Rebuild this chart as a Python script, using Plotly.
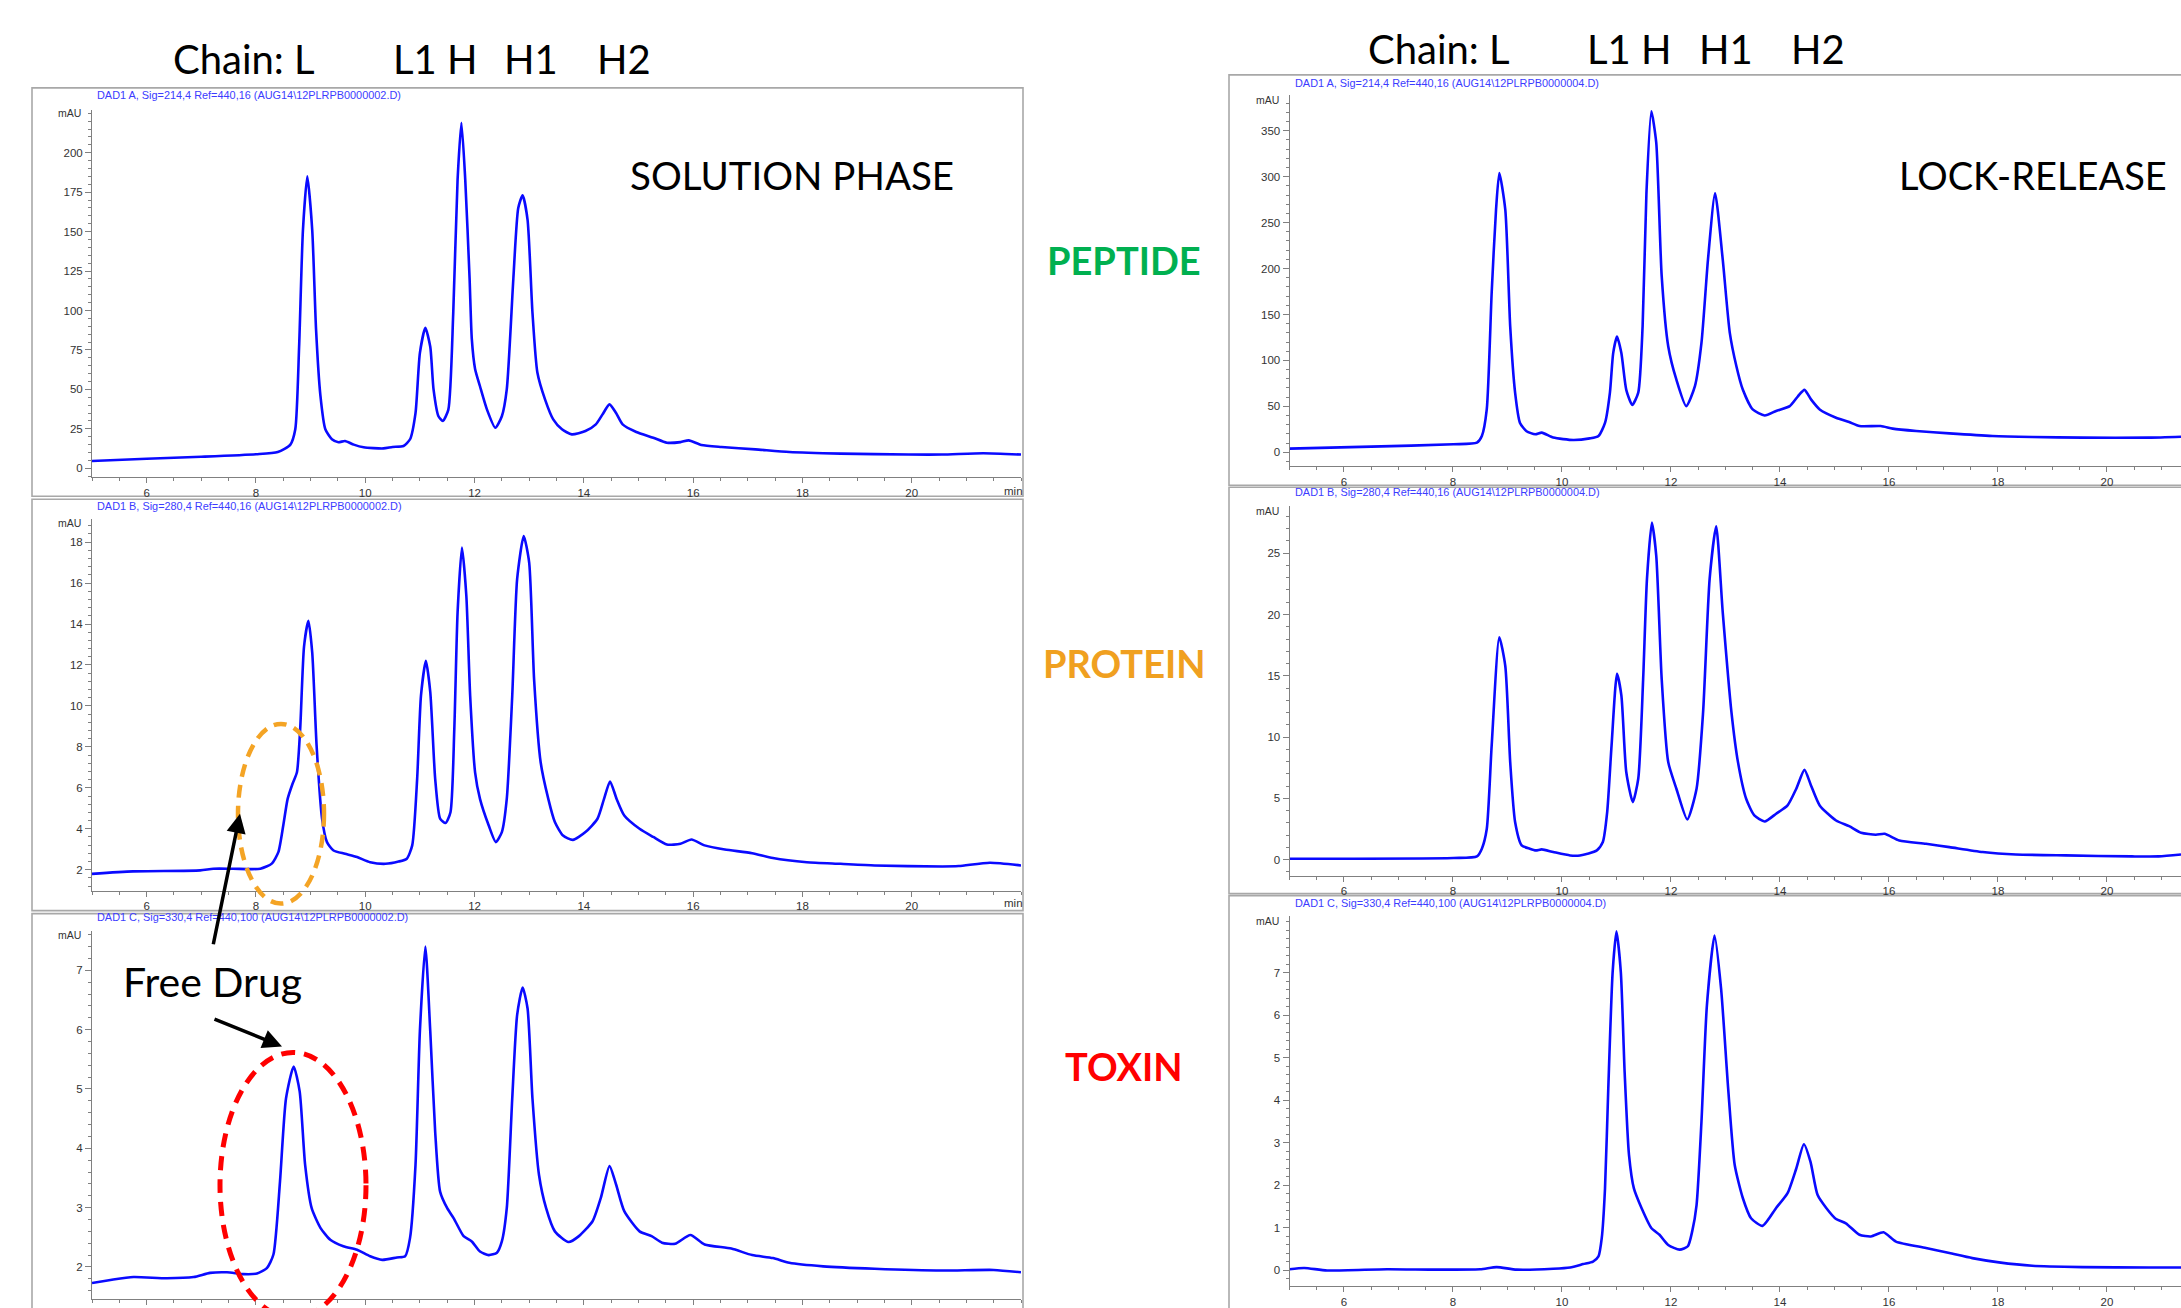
import plotly.graph_objects as go

W, H = 2181, 1308

# ---------------- data (retention time in min, absorbance in mAU) ----------------
# Solution phase, DAD1 A (214 nm) - PEPTIDE
sol_a_t = [5.0, 6.0, 7.0, 8.0, 8.4, 8.63, 8.72, 8.79, 8.86, 8.94, 9.03, 9.1, 9.18, 9.27, 9.39, 9.51, 9.63, 9.79,
           9.97, 10.33, 10.5, 10.7, 10.82, 10.92, 11.0, 11.1, 11.19, 11.25, 11.34, 11.42, 11.52, 11.61, 11.69, 11.76,
           11.83, 11.91, 11.95, 12.01, 12.1, 12.23, 12.38, 12.5, 12.59, 12.71, 12.8, 12.88, 12.97, 13.06, 13.15, 13.29,
           13.44, 13.6, 13.78, 14.03, 14.22, 14.34, 14.47, 14.59, 14.71, 14.96, 15.27, 15.52, 15.77, 15.92, 16.15,
           16.52, 17.14, 17.76, 18.7, 19.94, 20.55, 21.31, 22.0]
sol_a_v = [4.6, 6.0, 7.3, 8.9, 10.3, 15, 24.7, 77, 151, 185, 151, 88, 46, 24.7, 18.4, 16.5, 17.3, 15,
           13.3, 12.6, 13.5, 14.1, 18.4, 35, 73, 89, 77, 50, 33, 30, 37, 98, 183, 219,
           183, 120, 82, 63, 52, 37, 25.7, 33, 50, 120, 165, 173, 157.6, 98.7, 60.7, 43.7,
           31, 24.7, 21.5, 23.6, 27.8, 34, 40.5, 35, 27.8, 23, 19.4, 16.2, 16.6, 17.7, 14.8,
           13.5, 12, 10.3, 9.3, 8.7, 8.7, 9.5, 8.7]

# Solution phase, DAD1 B (280 nm) - PROTEIN
sol_b_t = [5.0, 5.75, 6.98, 7.22, 7.58, 8.08, 8.29, 8.41, 8.5, 8.58, 8.67, 8.75, 8.81, 8.88, 8.96, 9.03, 9.11, 9.21,
           9.3, 9.42, 9.63, 9.85, 10.09, 10.37, 10.61, 10.76, 10.86, 10.95, 11.02, 11.11, 11.19, 11.28, 11.37, 11.47,
           11.56, 11.63, 11.69, 11.77, 11.85, 11.92, 12.01, 12.1, 12.26, 12.39, 12.5, 12.59, 12.69, 12.78, 12.9,
           13.0, 13.09, 13.21, 13.35, 13.47, 13.62, 13.8, 14.03, 14.25, 14.37, 14.48, 14.6, 14.74, 15.02, 15.27, 15.52,
           15.77, 15.97, 16.21, 16.58, 17.08, 17.46, 18.08, 18.7, 19.32, 20.56, 20.86, 21.43, 22.0]
sol_b_v = [1.8, 1.92, 1.97, 2.05, 2.05, 2.05, 2.3, 2.86, 4.16, 5.46, 6.2, 6.76, 8.9, 12.9, 14.16, 12.6, 8.06, 4.5,
           3.35, 2.94, 2.78, 2.62, 2.37, 2.29, 2.4, 2.54, 3.19, 6.44, 10.5, 12.2, 10.67, 6.44, 4.5, 4.28,
           4.81, 8.88, 14.57, 17.74, 15.38, 10.5, 6.76, 5.46, 4.16, 3.35, 3.84, 5.46, 10.5, 16.2, 18.3,
           17.0, 11.3, 7.25, 5.46, 4.33, 3.67, 3.46, 3.84, 4.49, 5.46, 6.31, 5.46, 4.65, 4.0, 3.6, 3.23,
           3.27, 3.48, 3.19, 2.99, 2.81, 2.57, 2.37, 2.29, 2.21, 2.16, 2.18, 2.34, 2.21]

# Solution phase, DAD1 C (330 nm) - TOXIN
sol_c_t = [5.0, 5.39, 5.76, 6.37, 6.86, 7.16, 7.47, 7.77, 8.02, 8.2, 8.32, 8.44, 8.55, 8.69, 8.8, 8.9, 9.02, 9.18,
           9.36, 9.6, 9.85, 10.09, 10.31, 10.58, 10.73, 10.82, 10.92, 11.0, 11.1, 11.19, 11.28, 11.37, 11.5, 11.62,
           11.8, 11.95, 12.1, 12.26, 12.41, 12.5, 12.59, 12.69, 12.78, 12.88, 12.97, 13.06, 13.18, 13.31, 13.47,
           13.72, 13.91, 14.16, 14.31, 14.47, 14.59, 14.74, 15.02, 15.24, 15.43, 15.67, 15.95, 16.21, 16.7, 17.08,
           17.46, 17.76, 18.38, 19.32, 20.56, 21.5, 22.0]
sol_c_v = [1.73, 1.79, 1.83, 1.81, 1.83, 1.9, 1.91, 1.88, 1.89, 1.98, 2.21, 3.44, 4.84, 5.38, 4.96, 3.72, 2.99, 2.66,
           2.46, 2.35, 2.29, 2.18, 2.12, 2.16, 2.18, 2.49, 3.72, 5.97, 7.4, 5.97, 4.28, 3.27, 2.99, 2.82,
           2.52, 2.43, 2.26, 2.2, 2.24, 2.43, 2.99, 4.84, 6.25, 6.71, 6.36, 4.84, 3.55, 2.99, 2.6,
           2.42, 2.52, 2.77, 3.16, 3.7, 3.39, 2.94, 2.6, 2.52, 2.41, 2.39, 2.54, 2.38, 2.31, 2.2,
           2.15, 2.07, 2.01, 1.97, 1.94, 1.95, 1.91]

# Lock-release, DAD1 A (214 nm)
lr_a_t = [5.0, 6.5, 8.01, 8.44, 8.53, 8.62, 8.71, 8.79, 8.85, 8.96, 9.05, 9.14, 9.23, 9.35, 9.51, 9.63, 9.84, 10.21,
          10.51, 10.67, 10.79, 10.88, 10.94, 11.01, 11.09, 11.18, 11.29, 11.4, 11.48, 11.55, 11.64, 11.73, 11.83,
          11.95, 12.1, 12.28, 12.44, 12.56, 12.68, 12.81, 12.95, 13.08, 13.2, 13.32, 13.5, 13.72, 13.93, 14.18,
          14.33, 14.45, 14.57, 14.73, 15.03, 15.27, 15.46, 15.85, 16.07, 16.5, 17.11, 17.9, 18.63, 19.55, 20.77,
          21.36]
lr_a_v = [4.0, 6.2, 8.7, 10.5, 17.8, 46.7, 173.6, 264, 304, 264, 137, 65, 32, 23, 19.6, 21.4, 16, 13.4,
          15.2, 17.8, 32, 65, 108, 126, 108, 68, 51.5, 65, 137, 282, 371, 337, 192,
          115.5, 79, 50.3, 72, 119, 210, 282, 210, 130, 94, 68, 46.7, 40, 45, 50.3,
          61, 68, 57.6, 46.7, 37.7, 33, 28.6, 28.6, 25.8, 23.2, 20.6, 17.8, 16.7, 16, 16,
          17]

# Lock-release, DAD1 B (280 nm)
lr_b_t = [5.0, 8.01, 8.44, 8.53, 8.62, 8.71, 8.85, 8.96, 9.05, 9.14, 9.26, 9.41, 9.52, 9.63, 9.84, 10.15, 10.33,
          10.64, 10.75, 10.83, 10.91, 11.01, 11.09, 11.18, 11.3, 11.4, 11.49, 11.56, 11.65, 11.73, 11.83, 11.95,
          12.1, 12.3, 12.47, 12.59, 12.71, 12.83, 12.95, 13.11, 13.23, 13.38, 13.53, 13.72, 13.93, 14.14, 14.3,
          14.45, 14.57, 14.73, 15.03, 15.27, 15.49, 15.76, 15.92, 16.19, 16.68, 17.11, 17.72, 18.33, 19.24, 20.46,
          20.95, 21.36]
lr_b_v = [0.08, 0.14, 0.27, 0.9, 2.5, 9.3, 18.15, 15.8, 7.96, 3.07, 1.17, 0.9, 0.76, 0.84, 0.63, 0.35, 0.35,
          0.76, 1.44, 3.89, 9.3, 15.16, 13.4, 7.15, 4.7, 6.6, 14.75, 22.9, 27.5, 24.8, 14.75, 7.96,
          5.79, 3.28, 5.79, 12.04, 22.9, 27.2, 20.2, 12.04, 7.96, 4.97, 3.61, 3.12, 3.75, 4.43, 5.79,
          7.33, 6.06, 4.43, 3.2, 2.74, 2.2, 2.04, 2.12, 1.57, 1.3, 1.03, 0.63, 0.43, 0.35, 0.27,
          0.27, 0.43]

# Lock-release, DAD1 C (330 nm)
lr_c_t = [5.0, 5.27, 5.69, 6.79, 7.7, 8.5, 8.8, 9.17, 9.84, 10.15, 10.39, 10.57, 10.67, 10.73, 10.79, 10.85, 10.93,
          11.0, 11.08, 11.15, 11.23, 11.32, 11.46, 11.64, 11.79, 11.95, 12.16, 12.31, 12.39, 12.47, 12.56, 12.66,
          12.8, 12.92, 13.05, 13.17, 13.32, 13.47, 13.68, 13.93, 14.14, 14.3, 14.44, 14.56, 14.69, 14.85, 15.03,
          15.21, 15.46, 15.67, 15.9, 16.13, 16.68, 17.11, 17.53, 18.02, 18.63, 19.55, 20.77, 21.36]
lr_c_v = [0.02, 0.05, -0.01, 0.02, 0.01, 0.02, 0.07, 0.01, 0.03, 0.06, 0.14, 0.2, 0.32, 0.75, 1.92, 4.27, 7.01,
          7.97, 7.01, 4.66, 2.71, 1.92, 1.46, 0.99, 0.83, 0.59, 0.48, 0.56, 0.91, 1.53, 3.49, 6.23,
          7.87, 6.62, 4.27, 2.47, 1.69, 1.22, 1.04, 1.46, 1.81, 2.39, 2.96, 2.55, 1.77, 1.46, 1.2,
          1.1, 0.83, 0.79, 0.89, 0.67, 0.52, 0.4, 0.28, 0.18, 0.1, 0.07, 0.06, 0.06]

panel_titles = [
    "DAD1 A, Sig=214,4 Ref=440,16 (AUG14\\12PLRPB0000002.D)",
    "DAD1 B, Sig=280,4 Ref=440,16 (AUG14\\12PLRPB0000002.D)",
    "DAD1 C, Sig=330,4 Ref=440,100 (AUG14\\12PLRPB0000002.D)",
    "DAD1 A, Sig=214,4 Ref=440,16 (AUG14\\12PLRPB0000004.D)",
    "DAD1 B, Sig=280,4 Ref=440,16 (AUG14\\12PLRPB0000004.D)",
    "DAD1 C, Sig=330,4 Ref=440,100 (AUG14\\12PLRPB0000004.D)",
]
chain_labels = ["Chain: L", "L1 H", "H1", "H2"]
row_labels = ["PEPTIDE", "PROTEIN", "TOXIN"]
row_colors = ["#00B050", "#F0A020", "#FF0000"]

x_tick_vals = [6, 8, 10, 12, 14, 16, 18, 20]
y_tick_vals = [
    [0, 25, 50, 75, 100, 125, 150, 175, 200],
    [2, 4, 6, 8, 10, 12, 14, 16, 18],
    [2, 3, 4, 5, 6, 7],
    [0, 50, 100, 150, 200, 250, 300, 350],
    [0, 5, 10, 15, 20, 25],
    [0, 1, 2, 3, 4, 5, 6, 7],
]
y_ranges = [[-5.7, 227.2], [0.98, 19.12], [1.46, 7.67], [-15.2, 389], [-1.30, 28.83], [-0.376, 8.34]]
y_minor = [5, 0.4, 0.2, 10, 1, 0.2]

# ---------------- layout geometry (pixels) ----------------
def px(X):
    return X / W


def py(Y):
    return 1 - Y / H


# plot areas: (x_left, x_right, y_top, y_bottom) in pixels
areas = [
    (92, 1021, 110, 478),
    (92, 1021, 520, 892),
    (92, 1021, 932, 1301),
    (1289.5, 2181, 95, 467),
    (1289.5, 2181, 507, 877),
    (1289.5, 2181, 917, 1288),
]
x_ranges = [[5, 22], [5, 22], [5, 22], [5, 21.36], [5, 21.36], [5, 21.36]]

series = [(sol_a_t, sol_a_v), (sol_b_t, sol_b_v), (sol_c_t, sol_c_v),
          (lr_a_t, lr_a_v), (lr_b_t, lr_b_v), (lr_c_t, lr_c_v)]

fig = go.Figure()
axis_gray = "#808080"
tickfont = dict(family="Liberation Sans, Arial", size=11.5, color="#333333")
layout_axes = {}
for i, ((t, v), area) in enumerate(zip(series, areas)):
    n = i + 1
    xn = "x" if n == 1 else f"x{n}"
    yn = "y" if n == 1 else f"y{n}"
    n_pts = min(len(t), len(v))
    fig.add_trace(go.Scatter(x=t[:n_pts], y=v[:n_pts], mode="lines", xaxis=xn, yaxis=yn,
                             line=dict(color="#0A0AFF", width=2.6, shape="spline", smoothing=0.6),
                             hoverinfo="skip"))
    xl, xr, yt, yb = area
    layout_axes["xaxis" if n == 1 else f"xaxis{n}"] = dict(
        domain=[px(xl), min(px(xr), 1.0)], range=x_ranges[i], anchor=yn,
        showgrid=False, zeroline=False, showline=True, linecolor=axis_gray, linewidth=1,
        ticks="outside", ticklen=5, tickcolor=axis_gray, tickmode="array", tickvals=x_tick_vals,
        minor=dict(ticks="outside", ticklen=3, tickmode="linear", tick0=0, dtick=0.5, tickcolor=axis_gray),
        tickfont=tickfont, showticklabels=(i != 2), fixedrange=True)
    layout_axes["yaxis" if n == 1 else f"yaxis{n}"] = dict(
        domain=[py(yb), py(yt)], range=y_ranges[i], anchor=xn,
        showgrid=False, zeroline=False, showline=True, linecolor=axis_gray, linewidth=1,
        ticks="outside", ticklen=6, tickcolor=axis_gray, tickmode="array", tickvals=y_tick_vals[i],
        minor=dict(ticks="outside", ticklen=3, tickmode="linear", tick0=0, dtick=y_minor[i], tickcolor=axis_gray),
        tickfont=tickfont, fixedrange=True)

fig.update_layout(**layout_axes)

shapes = []
frames = [(32, 1023, 88, 497), (32, 1023, 500, 912), (32, 1023, 915, 1330),
          (1229, 2230, 75, 486), (1229, 2230, 488, 895), (1229, 2230, 897, 1330)]
for x0, x1, y0, y1 in frames:
    shapes.append(dict(type="rect", xref="paper", yref="paper", x0=px(x0), x1=px(x1), y0=py(y1), y1=py(y0),
                       line=dict(color="#A8A8A8", width=1.6), fillcolor="rgba(0,0,0,0)", layer="below"))
# dashed ellipses
shapes.append(dict(type="circle", xref="paper", yref="paper", x0=px(238), x1=px(324), y0=py(905), y1=py(725),
                   line=dict(color="#F4A425", width=4.5, dash="13px,8px")))
shapes.append(dict(type="circle", xref="paper", yref="paper", x0=px(220), x1=px(366), y0=py(1320), y1=py(1054),
                   line=dict(color="#FF0000", width=5, dash="14px,9px")))

ann = []
title_pos = [(95, 95), (95, 507), (95, 918), (1293, 83), (1293, 493), (1293, 904)]
mau_pos = [(83, 113), (83, 524), (83, 936), (1281, 100), (1281, 512), (1281, 922)]
for txt, (tx, ty), (mx, my) in zip(panel_titles, title_pos, mau_pos):
    ann.append(dict(text=txt, x=px(tx), y=py(ty), xref="paper", yref="paper", xanchor="left", yanchor="middle",
                    showarrow=False, font=dict(family="Liberation Sans, Arial", size=10.9, color="#3C3CFF")))
    ann.append(dict(text="mAU", x=px(mx), y=py(my), xref="paper", yref="paper", xanchor="right",
                    yanchor="middle", showarrow=False, font=dict(family="Liberation Sans, Arial", size=10.5,
                                                                     color="#333333")))
for my in (492, 904):
    ann.append(dict(text="min", x=px(1014), y=py(my), xref="paper", yref="paper", xanchor="center",
                    yanchor="middle", showarrow=False,
                    font=dict(family="Liberation Sans, Arial", size=11.5, color="#333333")))

big_font = dict(family="Lato, Open Sans, sans-serif", size=40, color="#000000")
left_chain_x = [171, 391, 502, 595]
right_chain_x = [1366, 1585, 1697, 1789]
for lab, x in zip(chain_labels, left_chain_x):
    ann.append(dict(text=lab, x=px(x), y=py(59), xref="paper", yref="paper", xanchor="left", yanchor="middle",
                    showarrow=False, font=big_font))
for lab, x in zip(chain_labels, right_chain_x):
    ann.append(dict(text=lab, x=px(x), y=py(49), xref="paper", yref="paper", xanchor="left", yanchor="middle",
                    showarrow=False, font=big_font))
ann.append(dict(text="SOLUTION PHASE", x=px(628), y=py(175), xref="paper", yref="paper", xanchor="left",
                yanchor="middle", showarrow=False, font=dict(big_font, size=38.5)))
ann.append(dict(text="LOCK-RELEASE", x=px(2169), y=py(175), xref="paper", yref="paper", xanchor="right",
                yanchor="middle", showarrow=False, font=dict(big_font, size=38)))
for lab, col, y in zip(row_labels, row_colors, (260, 664, 1068)):
    ann.append(dict(text=f"<b>{lab}</b>", x=px(1124), y=py(y), xref="paper", yref="paper", xanchor="center",
                    yanchor="middle", showarrow=False,
                    font=dict(family="Lato, Open Sans, sans-serif", size=38, color=col)))
ann.append(dict(text="Free Drug", x=px(121), y=py(983), xref="paper", yref="paper", xanchor="left",
                yanchor="middle", showarrow=False,
                font=dict(family="Lato, Open Sans, sans-serif", size=41, color="#000000")))
# arrows
ann.append(dict(text="", x=px(240), y=py(815), xref="paper", yref="paper", ax=-27, ay=132, showarrow=True,
                arrowhead=2, arrowsize=1.1, arrowwidth=3.5, arrowcolor="#000000", standoff=0))
ann.append(dict(text="", x=px(282), y=py(1048), xref="paper", yref="paper", ax=-69, ay=-28, showarrow=True,
                arrowhead=2, arrowsize=1.1, arrowwidth=3.5, arrowcolor="#000000", standoff=0))

fig.update_layout(width=W, height=H, margin=dict(l=0, r=0, t=0, b=0), paper_bgcolor="white",
                  plot_bgcolor="white", showlegend=False, shapes=shapes, annotations=ann)

fig.write_html("out.html")
